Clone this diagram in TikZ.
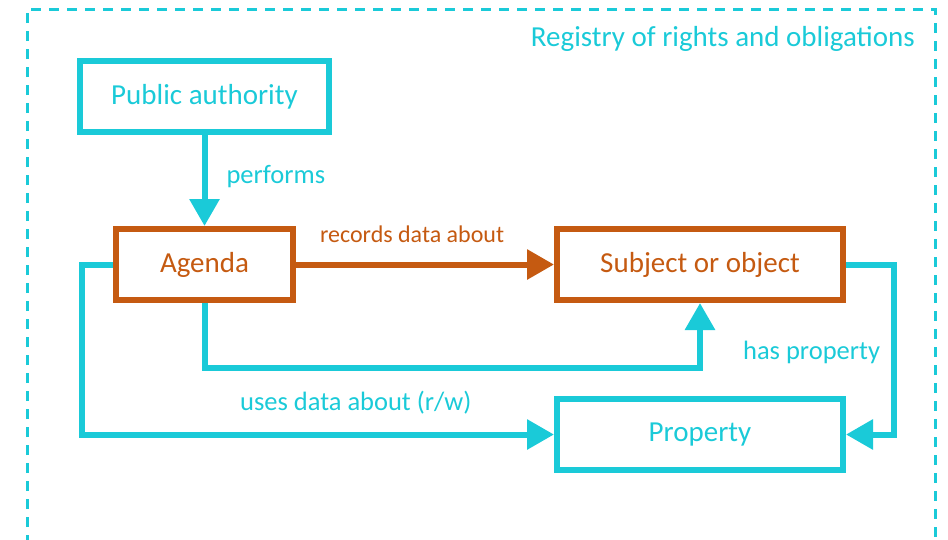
\documentclass[tikz,border=0pt]{standalone}
\usepackage{fontspec}
\setmainfont{Carlito}
\usetikzlibrary{positioning,arrows.meta}
\definecolor{regcyan}{HTML}{1ACAD8}
\definecolor{regorange}{HTML}{C55A11}

\begin{document}
\begin{tikzpicture}[x=1pt, y=1pt,
    box/.style={draw, line width=6pt, minimum width=249pt, minimum height=71pt,
        inner sep=0pt, font=\fontsize{29}{34}\selectfont},
    cyanbox/.style={box, draw=regcyan, text=regcyan},
    orangebox/.style={box, draw=regorange, text=regorange},
    link/.style={line width=6pt, regcyan, -{Triangle[width=29pt, length=27pt]}},
    reclink/.style={link, regorange},
    lbl/.style={inner sep=0pt, font=\fontsize{26.5}{30}\selectfont},
]
    \useasboundingbox (0,0) rectangle (948,-539);
    %% dashed frame, open at the bottom
    \coordinate (frame-bl) at (27,-545);
    \coordinate (frame-tr) at (935,-9);
    \coordinate (frame-br) at (935,-545);
    \draw[regcyan, line width=3pt, dash pattern=on 10pt off 8pt]
        (frame-bl) |- (frame-tr) -- (frame-br);
    \node[anchor=base east, inner sep=0pt, text=regcyan,
        font=\fontsize{29}{34}\selectfont] (registry) at (915,-46)
        {Registry of rights and obligations};

    \node[cyanbox] (authority) at (204.5,-96.5) {Public authority};
    \node[orangebox, minimum width=177pt, below=91pt of authority] (agenda) {Agenda};
    \node[orangebox, minimum width=286pt, right=258pt of agenda] (subject) {Subject or object};
    \node[cyanbox, minimum width=286pt, below=93pt of subject] (property) {Property};

    \draw[link] (authority.south) -- node[lbl, pos=0.53, anchor=base west, xshift=19pt]
        {performs} (agenda.north);
    \draw[reclink] (agenda.east) -- node[lbl, font=\fontsize{24}{28}\selectfont, pos=0.45,
        anchor=base, yshift=22.5pt] {records data about} (subject.west);
    \draw[link] (agenda.south) -- ++(0,-65) -| (subject.south);
    \draw[link] (agenda.west) -- ++(-31,0) |- node[lbl, pos=0.79, anchor=base, yshift=24.5pt]
        {uses data about (r/w)} (property.west);
    \draw[link] (subject.east) -- ++(48,0) |- node[lbl, pos=0.278, anchor=base east, xshift=-11pt]
        {has property} (property.east);
\end{tikzpicture}
\end{document}
